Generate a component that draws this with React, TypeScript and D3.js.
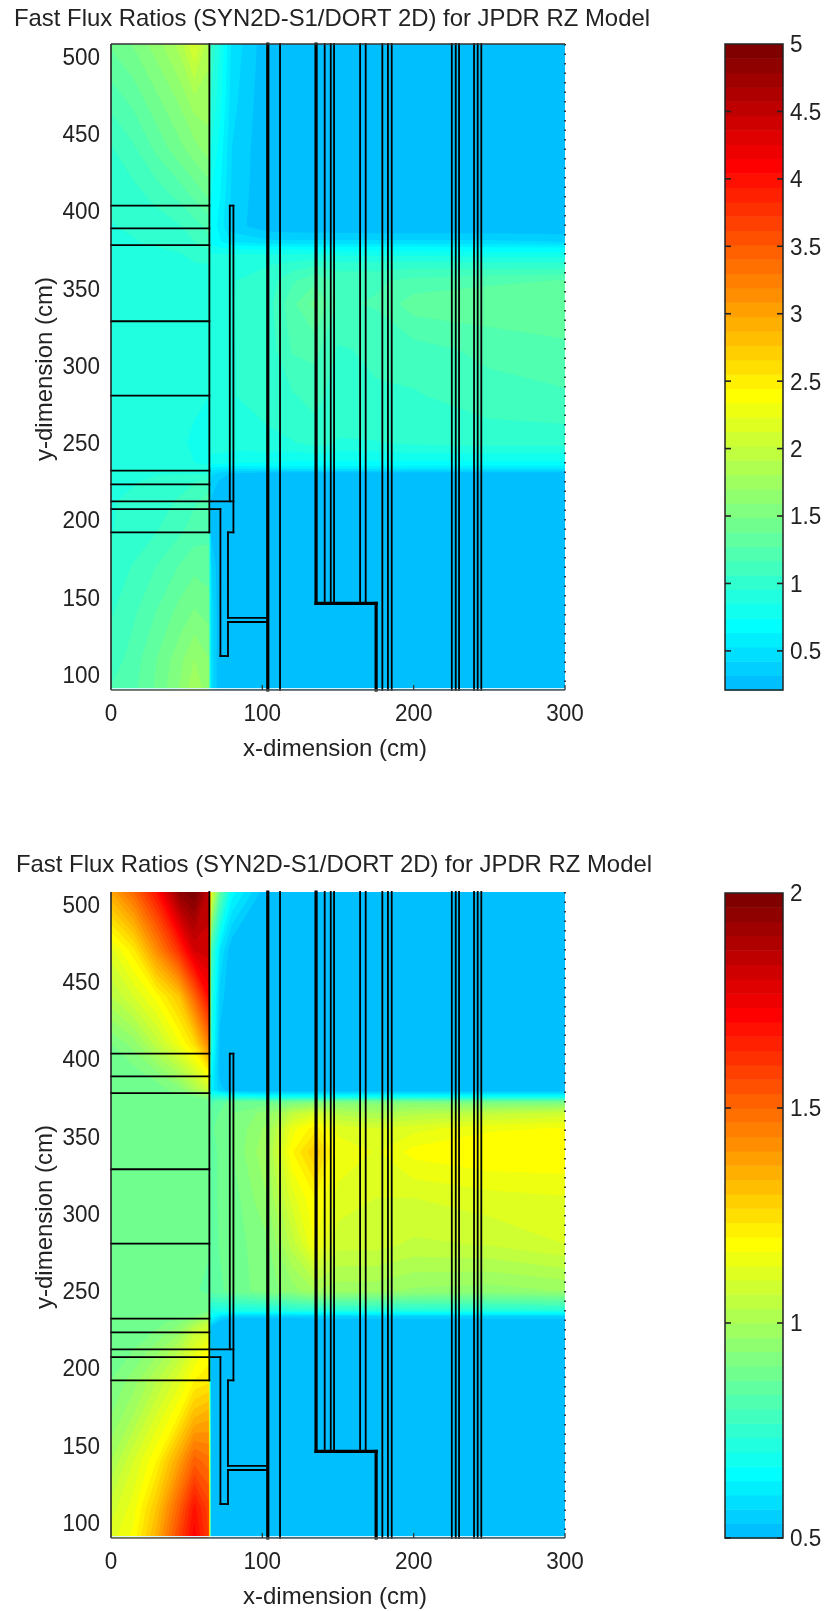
import React, { useMemo } from "react";
import * as d3 from "d3";

const titleText = "Fast Flux Ratios (SYN2D-S1/DORT 2D) for JPDR RZ Model";
const xTicks = [0, 100, 200, 300];
const yTicks = [100, 150, 200, 250, 300, 350, 400, 450, 500];
const barTicksTop = [0.5, 1, 1.5, 2, 2.5, 3, 3.5, 4, 4.5, 5];
const barTicksBottom = [0.5, 1, 1.5, 2];

// sample positions of the field (cm)
const xGrid = [0, 15, 30, 45, 55, 64.5, 66, 72, 80, 104, 120, 135, 150, 175, 200, 250, 300];
const yGrid = [90, 110, 140, 170, 192, 212, 225, 230, 233.5, 237, 250, 280, 310, 340, 355, 365, 372, 376, 380, 390, 410, 440, 470, 508];

// ratios; one row per yGrid entry, bottom to top
const fieldTop = [
  [1.18, 1.25, 1.4, 1.6, 1.78, 1.65, 0.5, .21, .21, .21, .21, .21, .21, .21, .21, .21, .21],
  [1.1, 1.22, 1.38, 1.55, 1.7, 1.6, 0.5, .21, .21, .21, .21, .21, .21, .21, .21, .21, .21],
  [1.05, 1.15, 1.28, 1.42, 1.5, 1.45, 0.5, .21, .21, .21, .21, .21, .21, .21, .21, .21, .21],
  [1.0, 1.07, 1.17, 1.28, 1.35, 1.32, 0.45, .21, .21, .21, .21, .21, .21, .21, .21, .21, .21],
  [.95, 1.0, 1.06, 1.15, 1.22, 1.25, 0.3, .22, .21, .21, .21, .21, .21, .21, .21, .21, .21],
  [.95, .97, 1.0, 1.08, 1.15, 1.22, 0.3, .25, .22, .21, .21, .21, .21, .21, .21, .21, .21],
  [.95, .95, .97, 1.0, 1.05, 1.1, 0.4, .3, .24, .21, .21, .21, .21, .21, .21, .21, .21],
  [.95, .95, .95, .95, .95, .95, 0.45, .38, .3, .24, .23, .23, .23, .23, .23, .23, .23],
  [.95, .95, .94, .92, .88, .86, .62, .58, .55, .58, .58, .58, .58, .58, .56, .55, .55],
  [.95, .95, .93, .9, .85, .84, .8, .78, .75, .75, .72, .72, .72, .72, .72, .72, .72],
  [.95, .95, .92, .88, .82, .78, .92, .92, .92, .93, .95, 1.0, .95, .95, .98, 1.0, 1.0],
  [.95, .95, .95, .93, .88, .85, .92, .92, .95, 1.0, 1.05, 1.1, 1.0, 1.05, 1.05, 1.12, 1.15],
  [.95, .95, .95, .95, .92, .9, .92, .92, .95, 1.0, 1.18, 1.2, 1.05, 1.08, 1.12, 1.2, 1.25],
  [.95, .95, .95, .95, .95, .95, .92, .92, .95, 1.02, 1.25, 1.42, 1.15, 1.18, 1.33, 1.35, 1.35],
  [.95, .95, .95, .95, .95, .95, .92, .92, .95, 1.0, 1.15, 1.25, 1.15, 1.15, 1.2, 1.25, 1.28],
  [.95, .95, .95, .95, .95, .95, .92, .92, .92, .95, 1.0, 1.05, 1.0, 1.0, 1.02, 1.0, 1.0],
  [.95, .95, .95, .95, .97, 1.0, .85, .85, .85, .85, .85, .85, .83, .82, .82, .8, .8],
  [.95, .95, .95, .97, 1.0, 1.08, .78, .75, .72, .7, .7, .68, .68, .68, .68, .66, .65],
  [.95, .95, .97, 1.0, 1.06, 1.15, .72, .65, .52, .45, .45, .45, .45, .45, .45, .45, .42],
  [.95, .97, 1.0, 1.05, 1.12, 1.2, .7, .6, .36, .25, .23, .22, .22, .21, .21, .21, .21],
  [.98, 1.02, 1.1, 1.2, 1.3, 1.4, .75, .64, .4, .22, .21, .21, .21, .21, .21, .21, .21],
  [1.05, 1.15, 1.3, 1.45, 1.55, 1.65, .85, .7, .42, .22, .21, .21, .21, .21, .21, .21, .21],
  [1.2, 1.3, 1.45, 1.6, 1.75, 1.75, .95, .78, .46, .22, .21, .21, .21, .21, .21, .21, .21],
  [1.4, 1.5, 1.65, 1.85, 2.15, 1.85, 1.05, .85, .5, .23, .21, .21, .21, .21, .21, .21, .21],
];

// ratios
const fieldBottom = [
  [1.12, 1.18, 1.35, 1.58, 1.72, 1.6, .5, .5, .5, .5, .5, .5, .5, .5, .5, .5, .5],
  [1.08, 1.15, 1.3, 1.52, 1.68, 1.58, .5, .5, .5, .5, .5, .5, .5, .5, .5, .5, .5],
  [1.0, 1.1, 1.2, 1.38, 1.52, 1.48, .5, .5, .5, .5, .5, .5, .5, .5, .5, .5, .5],
  [.93, 1.0, 1.1, 1.2, 1.32, 1.35, .5, .5, .5, .5, .5, .5, .5, .5, .5, .5, .5],
  [.9, .95, 1.03, 1.12, 1.2, 1.22, .5, .5, .5, .5, .5, .5, .5, .5, .5, .5, .5],
  [.88, .9, .95, 1.03, 1.12, 1.18, .5, .5, .5, .5, .5, .5, .5, .5, .5, .5, .5],
  [.87, .87, .9, .95, 1.05, 1.1, .5, .5, .5, .5, .5, .5, .5, .5, .5, .5, .5],
  [.87, .87, .88, .92, .98, 1.05, .6, .52, .5, .5, .5, .5, .5, .5, .5, .5, .5],
  [.87, .87, .87, .88, .9, .95, .66, .6, .55, .55, .55, .56, .56, .56, .56, .56, .56],
  [.87, .87, .87, .87, .88, .9, .7, .7, .7, .7, .72, .72, .72, .72, .72, .72, .72],
  [.87, .87, .87, .87, .87, .86, .85, .86, .88, .92, .95, 1.0, .98, .98, .96, .95, .97],
  [.87, .87, .87, .87, .87, .87, .85, .87, .88, .93, 1.05, 1.17, 1.08, 1.08, 1.06, 1.07, 1.1],
  [.87, .87, .87, .87, .87, .87, .86, .87, .88, .97, 1.12, 1.2, 1.12, 1.1, 1.1, 1.12, 1.13],
  [.87, .87, .87, .87, .87, .87, .86, .87, .9, 1.0, 1.2, 1.3, 1.16, 1.13, 1.18, 1.2, 1.2],
  [.87, .87, .87, .87, .87, .87, .86, .88, .9, .98, 1.15, 1.22, 1.12, 1.1, 1.12, 1.16, 1.17],
  [.87, .87, .87, .87, .87, .87, .85, .87, .9, .95, 1.05, 1.1, 1.02, 1.0, 1.02, 1.05, 1.08],
  [.87, .87, .87, .87, .87, .88, .82, .85, .88, .88, .9, .92, .92, .92, .92, .9, .9],
  [.87, .87, .87, .88, .9, .95, .72, .72, .68, .65, .65, .65, .65, .65, .65, .65, .65],
  [.87, .87, .88, .92, 1.0, 1.08, .62, .55, .5, .5, .5, .5, .5, .5, .5, .5, .5],
  [.88, .88, .92, 1.0, 1.08, 1.18, .65, .52, .5, .5, .5, .5, .5, .5, .5, .5, .5],
  [.9, .95, 1.05, 1.16, 1.25, 1.45, .72, .52, .5, .5, .5, .5, .5, .5, .5, .5, .5],
  [1.03, 1.1, 1.18, 1.3, 1.5, 1.7, .75, .55, .5, .5, .5, .5, .5, .5, .5, .5, .5],
  [1.12, 1.22, 1.42, 1.62, 1.8, 1.82, .8, .6, .5, .5, .5, .5, .5, .5, .5, .5, .5],
  [1.37, 1.5, 1.68, 1.95, 2.0, 1.85, 1.15, .85, .65, .5, .5, .5, .5, .5, .5, .5, .5],
];

// model outline, [x1, y1, x2, y2] in cm
const thinSegments = [
  [0, 403.4, 65, 403.4], [0, 388.7, 65, 388.7], [0, 377.8, 65, 377.8], [0, 328.6, 65, 328.6],
  [0, 280.5, 65, 280.5], [0, 232, 65, 232], [0, 223, 65, 223], [0, 192, 65, 192],
  [0, 212, 80.9, 212], [0, 207, 72.3, 207], [65, 192, 65, 508],
  [78.5, 212, 78.5, 403.4], [80.9, 192, 80.9, 403.4], [78.5, 403.4, 80.9, 403.4],
  [77.3, 192, 80.9, 192], [77.3, 192, 77.3, 136.7], [77.3, 134, 77.3, 112], [72.3, 112, 77.3, 112], [72.3, 207, 72.3, 112],
  [77.3, 136.7, 103.6, 136.7], [77.3, 134, 103.6, 134],
  [111.7, 90, 111.7, 508],
  [141.2, 146, 141.2, 508], [145.2, 146, 145.2, 508], [147.4, 146, 147.4, 508], [164.6, 146, 164.6, 508], [168.3, 146, 168.3, 508],
  [179.3, 90, 179.3, 508], [183, 90, 183, 508], [185.5, 90, 185.5, 508],
  [225.2, 90, 225.2, 508], [227.8, 90, 227.8, 508], [230, 90, 230, 508],
  [239.9, 90, 239.9, 508], [242.3, 90, 242.3, 508], [244.7, 90, 244.7, 508],
];
const thickSegments = [
  [103.6, 90, 103.6, 508], [135.5, 146, 135.5, 508], [135.5, 146, 175.2, 146], [175.2, 90, 175.2, 146],
];

const LEVELS = 45;
const jet = (i: number) => {
  const x = (i + 1) / 64;
  const c = (v: number) => Math.round(255 * Math.max(0, Math.min(1, v)));
  return d3.rgb(c(Math.min(4 * x - 1.5, -4 * x + 4.5)), c(Math.min(4 * x - 0.5, -4 * x + 3.5)), c(Math.min(4 * x + 0.5, -4 * x + 2.5))).formatHex();
};
const FONT = "'Liberation Sans', Arial, sans-serif";

// tick labels in the reference are a little taller than they are wide
function TickLabel({ x, y, anchor, children }: any) {
  return (
    <text transform={`translate(${x},${y}) scale(1,1.1)`} fontSize={22.5} textAnchor={anchor} dominantBaseline="central">{children}</text>
  );
}

function Panel({ dy, titleY, titleX, field, vmin, vmax, barTicks, topBorder, top }: any) {
  const x = d3.scaleLinear().domain([0, 300]).range([111, 565]);
  const y = d3.scaleLinear().domain([90, 508]).range([690 + dy, 44 + dy]);
  const bar = d3.scaleLinear().domain([vmin, vmax]).range([690 + dy, top]);

  const bands = useMemo(() => {
    const nx = xGrid.length, ny = yGrid.length;
    const cols = d3.scaleLinear().domain([0, ...xGrid.map((_, i) => i + 0.5), nx]).range([0, ...xGrid, 300].map((v) => x(v)));
    const rows = d3.scaleLinear().domain([0, ...yGrid.map((_, i) => i + 0.5), ny]).range([90, ...yGrid, 508].map((v) => y(v)));
    const thresholds = d3.range(LEVELS).map((k) => vmin + (k * (vmax - vmin)) / LEVELS);
    const polys = d3.contours().size([nx, ny]).thresholds(thresholds)(field.flat());
    const path = d3.geoPath();
    return polys.map((p: any, k: number) => ({
      color: jet(19 + k),
      d: path({
        type: "MultiPolygon",
        coordinates: p.coordinates.map((poly: any) => poly.map((ring: any) => ring.map(([a, b]: number[]) => [cols(a), rows(b)]))),
      } as any) || "",
    }));
  }, []);

  const barBands = d3.range(LEVELS).map((k) => {
    const lo = vmin + (k * (vmax - vmin)) / LEVELS;
    const hi = vmin + ((k + 1) * (vmax - vmin)) / LEVELS;
    return { y: bar(hi), h: bar(lo) - bar(hi), color: jet(19 + k) };
  });

  return (
    <g fontFamily={FONT} fill="#222">
      <text x={titleX} y={titleY} fontSize={24} textLength={636} lengthAdjust="spacingAndGlyphs" dominantBaseline="central">{titleText}</text>

      <rect x={x(0)} y={y(508)} width={x(300) - x(0)} height={y(90) - y(508)} fill={jet(19)} />
      {bands.map((b: any, i: number) => <path key={i} d={b.d} fill={b.color} />)}

      <line x1={x(0)} x2={x(300)} y1={y(90) - 1.5} y2={y(90) - 1.5} stroke="#d8f4ff" strokeWidth={1.2} />
      <line x1={x(300)} x2={x(300)} y1={y(508)} y2={y(90)} stroke="#111" strokeWidth={1.6} strokeDasharray="1.6 7.9" />

      {thinSegments.map((s, i) => (
        <line key={i} x1={x(s[0])} y1={y(s[1])} x2={x(s[2])} y2={y(s[3])} stroke="#000" strokeWidth={1.8} strokeLinecap="square" />
      ))}
      {thickSegments.map((s, i) => (
        <line key={i} x1={x(s[0])} y1={y(s[1])} x2={x(s[2])} y2={y(s[3])} stroke="#000" strokeWidth={3.2} strokeLinecap="square" />
      ))}

      <line x1={x(0)} x2={x(0)} y1={y(508)} y2={y(90)} stroke="#222" strokeWidth={1.6} />
      <line x1={x(0)} x2={x(300)} y1={y(90)} y2={y(90)} stroke="#555" strokeWidth={1.5} />
      {topBorder && <line x1={x(0)} x2={x(300)} y1={y(508)} y2={y(508)} stroke="#333" strokeWidth={1.5} />}
      {xTicks.slice(1).map((t) => <line key={t} x1={x(t)} x2={x(t)} y1={y(90)} y2={y(90) - 5} stroke="#333" strokeWidth={1.3} />)}

      {xTicks.map((t) => <TickLabel key={t} x={x(t)} y={713 + dy} anchor="middle">{t}</TickLabel>)}
      {yTicks.map((t) => <TickLabel key={t} x={100} y={y(t)} anchor="end">{t}</TickLabel>)}
      <text x={335} y={747 + dy} fontSize={24} textAnchor="middle" dominantBaseline="central">x-dimension (cm)</text>
      <text transform={`translate(43,${369 + dy}) rotate(-90)`} fontSize={24} textAnchor="middle" dominantBaseline="central">y-dimension (cm)</text>

      {barBands.map((b, i) => <rect key={i} x={725} y={b.y} width={58} height={b.h + 0.5} fill={b.color} />)}
      <rect x={725} y={top} width={58} height={690 + dy - top} fill="none" stroke="#222" strokeWidth={1.5} />
      {barTicks.map((t: number) => (
        <g key={t}>
          {t !== vmax && <line x1={725} x2={731} y1={bar(t)} y2={bar(t)} stroke="#222" strokeWidth={1.6} />}
          {t !== vmax && <line x1={777} x2={783} y1={bar(t)} y2={bar(t)} stroke="#222" strokeWidth={1.6} />}
          <TickLabel x={790} y={bar(t)} anchor="start">{t}</TickLabel>
        </g>
      ))}
    </g>
  );
}

export default function App() {
  return (
    <svg width={827} height={1611} viewBox="0 0 827 1611"
      style={{ position: "absolute", left: 0, top: 0, display: "block", background: "#fff", filter: "blur(0.45px)" }}>
      <Panel dy={0} titleY={17} titleX={14} field={fieldTop} vmin={0.21} vmax={5} barTicks={barTicksTop} topBorder top={44} />
      <Panel dy={848} titleY={863} titleX={16} field={fieldBottom} vmin={0.5} vmax={2} barTicks={barTicksBottom} topBorder={false} top={893} />
    </svg>
  );
}
